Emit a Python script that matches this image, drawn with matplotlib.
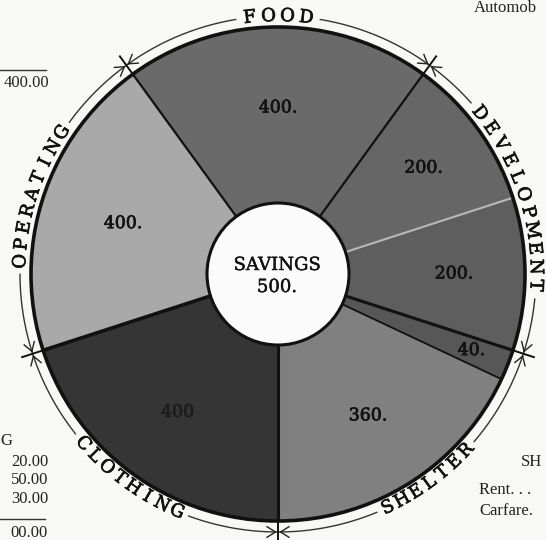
import numpy as np
import matplotlib
matplotlib.use("Agg")
import matplotlib.pyplot as plt
from matplotlib.patches import Circle
import matplotlib.patheffects as pe

# ---------------- data ----------------
slice_values = [400, 200, 200, 40, 360, 400, 400]
slice_labels = ["400.", "200.", "200.", "40.", "360.", "400", "400."]
slice_colors = ["#6a6a6a", "#666666", "#5e5e5e", "#575757", "#808080", "#353535", "#a9a9a9"]
categories = ["FOOD", "DEVELOPMENT", "SHELTER", "CLOTHING", "OPERATING"]
category_slices = [1, 2, 2, 1, 1]          # how many slices belong to each category
savings_label = "SAVINGS"
savings_value = "500."

# fragments of the surrounding printed page
top_right_text = "Automob"
top_left_text = "400.00"
left_lines = ["G", "20.00", "50.00", "30.00", "00.00"]
right_lines = ["SH", "Rent. . .", "Carfare."]

# ---------------- layout / style ----------------
W, H = 546, 540
cx, cy = 278, H - 274
R_OUT, R_IN, R_RING = 247, 71, 258
START = 126
label_r = [166, 180, 176, 208, 168, 171, 163]
edge_style = [("#111111", 1.6), ("#111111", 1.6), ("#b8b8b8", 1.5), ("#111111", 2.2),
              ("#111111", 1.3), ("#111111", 2.2), ("#111111", 2.6)]
letter_step = [4.2, 4.1, 3.6, 3.7, 3.8]
SERIF = ["DejaVu Serif"]
PAGE = ["Liberation Serif", "DejaVu Serif"]
ring_fx = [pe.withStroke(linewidth=0.5, foreground="#111111")]
center_fx = [pe.withStroke(linewidth=0.3, foreground="#111111")]

fig = plt.figure(figsize=(W / 100, H / 100), dpi=100)
fig.patch.set_facecolor("#f8f8f6")
ax = fig.add_axes([0, 0, 1, 1])

ax.pie(slice_values, colors=slice_colors, startangle=START, counterclock=False,
       center=(cx, cy), radius=R_OUT,
       wedgeprops=dict(width=R_OUT - R_IN, linewidth=0, edgecolor="none"))
ax.set_xlim(0, W)
ax.set_ylim(0, H)
ax.set_aspect("equal")
ax.axis("off")

total = float(sum(slice_values))
cum = np.concatenate([[0], np.cumsum(slice_values)])
bounds = START - cum * 360.0 / total

# radial separators
for i in range(len(slice_values)):
    t = np.deg2rad(bounds[i])
    col, lw = edge_style[i]
    ax.plot([cx + R_IN * np.cos(t), cx + R_OUT * np.cos(t)],
            [cy + R_IN * np.sin(t), cy + R_OUT * np.sin(t)],
            color=col, lw=lw, solid_capstyle="butt", zorder=3)

ax.add_patch(Circle((cx, cy), R_OUT, fill=False, ec="#111111", lw=2.6, zorder=4))
ax.add_patch(Circle((cx, cy), R_IN, fc="#fbfbfb", ec="#111111", lw=2.2, zorder=5))

# slice values
for i, lab in enumerate(slice_labels):
    m = np.deg2rad((bounds[i] + bounds[i + 1]) / 2)
    col = "#1c1c1c" if slice_colors[i] == "#353535" else "#111111"
    ax.text(cx + label_r[i] * np.cos(m), cy + label_r[i] * np.sin(m), lab,
            ha="center", va="center", fontsize=12.5, family=SERIF, color=col, zorder=6,
            path_effects=[pe.withStroke(linewidth=0.5, foreground=col)])

ax.text(cx - 1, cy + 9, savings_label, ha="center", va="center", fontsize=13,
        family=SERIF, color="#111111", zorder=6, path_effects=center_fx)
ax.text(cx - 1, cy - 13, savings_value, ha="center", va="center", fontsize=13,
        family=SERIF, color="#111111", zorder=6, path_effects=center_fx)

# category ring
gcum = np.concatenate([[0], np.cumsum(category_slices)])
gbounds = [bounds[k] for k in gcum]
mids, halves = [], []
for j, name in enumerate(categories):
    mid = (gbounds[j] + gbounds[j + 1]) / 2
    n = len(name)
    step = letter_step[j]
    top = np.sin(np.deg2rad(mid)) > 0
    for k, ch in enumerate(name):
        off = (k - (n - 1) / 2) * step
        a = mid - off if top else mid + off
        rot = a - 90 if top else a + 90
        t = np.deg2rad(a)
        ax.text(cx + R_RING * np.cos(t), cy + R_RING * np.sin(t), ch,
                ha="center", va="center", rotation=rot, rotation_mode="anchor",
                fontsize=13, family=SERIF, color="#111111", zorder=6, path_effects=ring_fx)
    mids.append(mid)
    halves.append(step * (n - 1) / 2 + step * 0.75)

for j in range(len(categories)):
    a0 = mids[j] - halves[j]
    nj = (j + 1) % len(categories)
    nmid = mids[nj] if nj > j else mids[nj] - 360
    a1 = nmid + halves[nj]
    th = np.deg2rad(np.linspace(a0, a1, 200))
    ax.plot(cx + R_RING * np.cos(th), cy + R_RING * np.sin(th), color="#333333", lw=1.0, zorder=3)

# ticks with arrowheads at category boundaries
L, ang = 10, np.deg2rad(32)
for gb in gbounds[:-1]:
    t = np.deg2rad(gb)
    n_ = np.array([np.cos(t), np.sin(t)])
    tg = np.array([-np.sin(t), np.cos(t)])
    p = np.array([cx, cy]) + R_RING * n_
    a = p - 13 * n_
    b = p + 11 * n_
    ax.plot([a[0], b[0]], [a[1], b[1]], color="#111111", lw=1.4, zorder=6)
    for s in (1, -1):
        v = p + s * tg * 2.5
        for q in (1, -1):
            e = v + L * (s * tg * np.cos(ang) + q * n_ * np.sin(ang))
            ax.plot([v[0], e[0]], [v[1], e[1]], color="#222222", lw=1.0, zorder=6)

# page fragments
ax.text(474, H - 12, top_right_text, ha="left", va="baseline", fontsize=12,
        family=PAGE, color="#222222")
ax.text(49, H - 83, top_left_text, ha="right", va="center", fontsize=12,
        family=PAGE, color="#222222")
ax.plot([0, 46], [H - 70, H - 70], color="#333333", lw=1.0)
left_y = [441, 462, 480, 499, 533]
for txt, yy in zip(left_lines, left_y):
    ax.text(12 if txt == "G" else 48, H - yy, txt, ha="right", va="center", fontsize=12,
            family=PAGE, color="#222222")
ax.plot([0, 45], [H - 519, H - 519], color="#333333", lw=1.0)
right_pos = [(521, 462), (479, 490), (479, 511)]
for txt, (xx, yy) in zip(right_lines, right_pos):
    ax.text(xx, H - yy, txt, ha="left", va="center", fontsize=12,
            family=PAGE, color="#222222")

fig.savefig("out.png", dpi=100, facecolor=fig.get_facecolor())
